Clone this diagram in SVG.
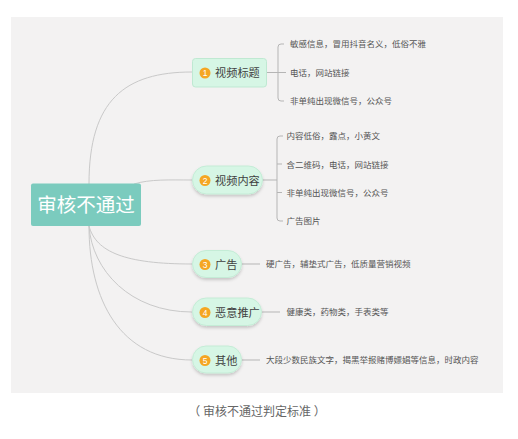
<svg xmlns="http://www.w3.org/2000/svg" width="518" height="439" viewBox="0 0 518 439">
  <defs>
    <style>
      .bg { fill: #f3f2f2; }
      .link { fill: none; stroke: #c9c9c9; stroke-width: 1; }
      .br { fill: none; stroke: #b5b5b5; stroke-width: 1; }
      .topic { fill: #d6f6e5; stroke: #bfe9d2; stroke-width: 1; }
      .pill { fill: #d6f6e5; stroke: #c4ecd6; stroke-width: 1; filter: url(#sh); }
      .num { fill: #f5a623; }
      .numt { font-family: "Liberation Sans", Arial, sans-serif; font-size: 8.5px; fill: #ffffff; text-anchor: middle; }
      .tt { font-family: "Noto Sans CJK SC", "Noto Sans", sans-serif; font-size: 11.2px; fill: #3f3f3f; }
      .sub { font-family: "Noto Sans CJK SC", "Noto Sans", sans-serif; font-size: 8.5px; fill: #555555; }
      .root { fill: #7bcbbe; }
      .roott { font-family: "Noto Sans CJK SC", "Noto Sans", sans-serif; font-size: 19.5px; fill: #ffffff; text-anchor: middle; }
      .cap { font-family: "Noto Sans CJK SC", "Noto Sans", sans-serif; font-size: 12px; fill: #666666; text-anchor: middle; }
    </style>
    <filter id="sh" x="-20%" y="-30%" width="140%" height="170%">
      <feDropShadow dx="0" dy="2" stdDeviation="1.5" flood-color="#000000" flood-opacity="0.18"/>
    </filter>
  </defs>

  <rect class="bg" x="11" y="17" width="492" height="376"/>

  <g id="connectors">
    <path class="link" d="M89,184 C89,100 125,72 192,72"/>
    <path class="link" d="M134,184 C150,179 170,180 192,180"/>
    <path class="link" d="M89,226 C96,252 125,264 192,264"/>
    <path class="link" d="M89,226 C92,270 130,312 192,312"/>
    <path class="link" d="M89,226 C89,300 120,360 192,360"/>

    <path class="br" d="M266,72.5 H286"/>
    <path class="br" d="M284,44 H281 Q278,44 278,47 V98 Q278,101 281,101 H284"/>

    <path class="br" d="M262,180 H277"/>
    <path class="br" d="M283,136 H280 Q277,136 277,139 V218 Q277,221 280,221 H283"/>
    <path class="br" d="M277,164 H282"/>
    <path class="br" d="M277,192.5 H282"/>

    <path class="br" d="M242,264 H260"/>
    <path class="br" d="M262,312 H280"/>
    <path class="br" d="M242,360 H260"/>
  </g>

  <g id="root">
    <rect class="root" x="31" y="183.5" width="110" height="42.5" rx="2"/>
    <text class="roott" x="86" y="212">审核不通过</text>
  </g>

  <g id="node1">
    <rect class="topic" x="192.5" y="58.5" width="74" height="28.5" rx="3"/>
    <circle class="num" cx="205" cy="73" r="5.5"/>
    <text class="numt" x="205" y="76">1</text>
    <text class="tt" x="215" y="77">视频标题</text>
  </g>
  <g id="node1-items">
    <text class="sub" x="290" y="47">敏感信息，冒用抖音名义，低俗不雅</text>
    <text class="sub" x="290" y="75.5">电话，网站链接</text>
    <text class="sub" x="290" y="104">非单纯出现微信号，公众号</text>
  </g>

  <g id="node2">
    <rect class="pill" x="192.5" y="166" width="70" height="28" rx="14"/>
    <circle class="num" cx="205" cy="180.5" r="5.5"/>
    <text class="numt" x="205" y="183.5">2</text>
    <text class="tt" x="215" y="184.5">视频内容</text>
  </g>
  <g id="node2-items">
    <text class="sub" x="286.5" y="139">内容低俗，露点，小黄文</text>
    <text class="sub" x="286.5" y="167.5">含二维码，电话，网站链接</text>
    <text class="sub" x="286.5" y="196">非单纯出现微信号，公众号</text>
    <text class="sub" x="286.5" y="224">广告图片</text>
  </g>

  <g id="node3">
    <rect class="pill" x="192.5" y="250.5" width="49" height="27" rx="13.5"/>
    <circle class="num" cx="205" cy="264.5" r="5.5"/>
    <text class="numt" x="205" y="267.5">3</text>
    <text class="tt" x="215" y="268.5">广告</text>
    <text class="sub" x="266" y="266.5">硬广告，辅垫式广告，低质量营销视频</text>
  </g>

  <g id="node4">
    <rect class="pill" x="192.5" y="298" width="69" height="27.5" rx="13.75"/>
    <circle class="num" cx="205" cy="312.5" r="5.5"/>
    <text class="numt" x="205" y="315.5">4</text>
    <text class="tt" x="215" y="316.5">恶意推广</text>
    <text class="sub" x="286.5" y="314.5">健康类，药物类，手表类等</text>
  </g>

  <g id="node5">
    <rect class="pill" x="192.5" y="346" width="49" height="27" rx="13.5"/>
    <circle class="num" cx="205" cy="360.5" r="5.5"/>
    <text class="numt" x="205" y="363.5">5</text>
    <text class="tt" x="215" y="364.5">其他</text>
    <text class="sub" x="266" y="362.5">大段少数民族文字，揭黑举报赌博嫖娼等信息，时政内容</text>
  </g>

  <text class="cap" x="257" y="416">（ 审核不通过判定标准 ）</text>
</svg>
